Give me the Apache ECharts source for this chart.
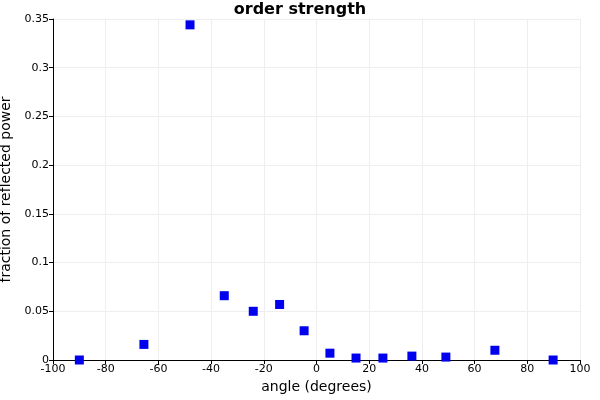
<!DOCTYPE html>
<html>
<head>
<meta charset="utf-8">
<script src="https://cdn.jsdelivr.net/npm/echarts@6/dist/echarts.min.js"></script>
<style>html,body{margin:0;padding:0;background:#fff}#chart{width:600px;height:400px}</style>
</head>
<body>
<div id="chart"></div>
<script>
const angles = [-90, -65.5, -48, -35, -24, -14, -4.7, 5.1, 15, 25.2, 36.2, 49.1, 67.7, 89.8];
const fractions = [0, 0.016, 0.344, 0.066, 0.050, 0.057, 0.030, 0.007, 0.002, 0.002, 0.004, 0.003, 0.010, 0];

const chart = echarts.init(document.getElementById("chart"));
const font = "DejaVu Sans";
chart.setOption({
  animation: false,
  textStyle: { fontFamily: font },
  title: {
    text: "order strength",
    left: "center",
    top: -3,
    textStyle: { fontFamily: font, fontSize: 16, fontWeight: "bold", color: "#000" }
  },
  grid: { left: 53, right: 20, top: 19, bottom: 40, containLabel: false, outerBoundsMode: "none" },
  xAxis: {
    type: "value", min: -100, max: 100, interval: 20,
    name: "angle (degrees)", nameLocation: "middle", nameGap: 16,
    nameTextStyle: { fontSize: 14, color: "#000" },
    axisLine: { onZero: false, lineStyle: { color: "#000" } },
    axisTick: { show: true, length: 4, lineStyle: { color: "#000" } },
    axisLabel: { color: "#000", fontSize: 11, margin: 4 },
    splitLine: { lineStyle: { color: "#eeeeee" } }
  },
  yAxis: {
    type: "value", min: 0, max: 0.35, interval: 0.05,
    name: "fraction of reflected power", nameLocation: "middle", nameGap: 38,
    nameTextStyle: { fontSize: 14, color: "#000" },
    axisLine: { show: true, onZero: false, lineStyle: { color: "#000" } },
    axisTick: { show: true, length: 4, lineStyle: { color: "#000" } },
    axisLabel: { color: "#000", fontSize: 11, margin: 4 },
    splitLine: { lineStyle: { color: "#eeeeee" } }
  },
  series: [{
    type: "scatter",
    symbol: "rect",
    symbolSize: 9,
    itemStyle: { color: "#0000ee", opacity: 1 },
    data: angles.map((a, i) => [a, fractions[i]])
  }]
});
</script>
</body>
</html>
